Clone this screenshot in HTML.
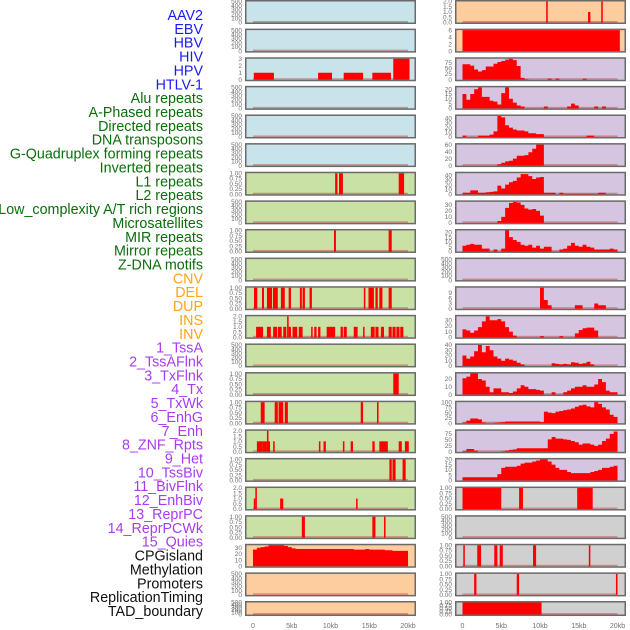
<!DOCTYPE html>
<html><head><meta charset="utf-8">
<style>
html,body{margin:0;padding:0;background:#fff;}
svg{display:block;font-family:"Liberation Sans",sans-serif;}
</style></head>
<body>
<svg id="chart" width="630" height="630" viewBox="0 0 630 630" xmlns="http://www.w3.org/2000/svg"></svg>
<script>
// ---- labels ----
const trackLabels = ["AAV2","EBV","HBV","HIV","HPV","HTLV-1","Alu repeats","A-Phased repeats","Directed repeats","DNA transposons","G-Quadruplex forming repeats","Inverted repeats","L1 repeats","L2 repeats","Low_complexity A/T rich regions","Microsatellites","MIR repeats","Mirror repeats","Z-DNA motifs","CNV","DEL","DUP","INS","INV","1_TssA","2_TssAFlnk","3_TxFlnk","4_Tx","5_TxWk","6_EnhG","7_Enh","8_ZNF_Rpts","9_Het","10_TssBiv","11_BivFlnk","12_EnhBiv","13_ReprPC","14_ReprPCWk","15_Quies","CPGisland","Methylation","Promoters","ReplicationTiming","TAD_boundary"];
const labelGroups = ["virus","virus","virus","virus","virus","virus","repeat","repeat","repeat","repeat","repeat","repeat","repeat","repeat","repeat","repeat","repeat","repeat","repeat","sv","sv","sv","sv","sv","state","state","state","state","state","state","state","state","state","state","state","state","state","state","state","misc","misc","misc","misc","misc"];
const xTickLabels = ["0","5kb","10kb","15kb","20kb"];
const xTickValues = [0,5,10,15,20];

// ---- tick sets ----
const ticks500 = [0,100,200,300,400,500];
const ticks1 = [0,0.25,0.5,0.75,1];
const ticks2 = [0,0.5,1,1.5,2];

// ---- interval data [startKb, endKb, value] ----
const hbvBars = [[0.1,2.7,1],[8.4,10.2,1],[11.7,14.2,1],[15.4,17.8,1],[18.1,20.2,3]];
const aluBars = [[10.6,10.9,1],[11.1,11.6,1],[18.8,19.5,1]];
const directedBars = [[10.45,10.7,1],[17.5,17.9,1]];
const gquadBars = [[0.13,0.55,1],[1.16,1.42,1],[1.8,2.45,1],[2.57,3.2,1],[3.6,4.1,1],[4.6,4.9,1],[6.05,6.3,1],[6.4,6.7,1],[7.3,7.6,1],[14.3,14.5,1],[14.9,15.6,1],[15.8,16.1,1],[16.3,16.7,1],[17.5,17.9,1]];
const invertedBars = [[0.4,1.3,1],[1.8,2.3,1],[2.6,3.1,1],[3.2,3.7,1],[3.9,4.3,1],[4.4,4.6,2],[4.6,4.9,1],[5.1,5.7,1],[5.9,6.4,1],[7.5,7.7,1],[7.9,8.2,1],[8.4,8.7,1],[9.5,10.6,1],[11.3,11.6,1],[11.7,12.1,1],[13,13.5,1],[14.2,14.4,1],[15.2,15.7,1],[15.8,16.2,1],[16.5,16.9,1],[17.5,17.9,1],[18,18.4,1],[18.5,18.9,1],[19,19.4,1]];
const l2Bars = [[18.1,18.8,1]];
const lowComplexBars = [[1.0,1.5,1],[2.8,3.2,1],[3.3,3.9,1],[4.1,4.5,1],[13.9,14.2,1],[16.0,16.2,1]];
const microsatBars = [[0.5,1.2,1],[1.2,1.8,1],[1.8,2.0,2],[2.0,2.2,1],[2.6,2.8,1],[8.5,8.7,1],[9.1,9.4,1],[11.6,11.8,1],[12.6,12.9,1],[15.4,15.7,1],[16.3,17.4,1],[18.8,19.2,1],[19.6,20.1,1]];
const mirBars = [[17.6,17.9,1],[18.0,18.4,1],[19.3,19.7,1]];
const mirrorBars = [[0.1,0.3,1],[0.3,0.5,2],[3.5,3.9,1],[13.3,13.5,1]];
const zdnaBars = [[6.3,6.7,1],[15.4,15.8,1],[16.9,17.1,1]];
const insBars = [[10.8,11.0,2],[16.2,16.5,1],[17.9,18.1,2]];
const invBars = [[0,20.3,6]];
const cpgBars = [[0,5,1],[7.3,7.8,1],[14.8,16.8,1]];
const promoterBars = [[0.1,0.3,1],[1.9,2.4,1],[4.1,4.5,1],[4.8,5.2,1],[9.1,9.5,1],[16.3,16.5,1]];
const replicationBars = [[1.5,1.8,1],[7.0,7.3,1],[19.8,20.0,1]];
const tadBars = [[0,10.2,1]];

// ---- profile data (0.5kb bins, 0..20kb) ----
const cnvProfile = [27,30,31,32,34,34,34,34,33,31,29,28,28,28,28,28,28,28,28,28,28,28,28,28,28,28,27,27,27,28,27,27,27,27,26,26,25,25,25,25];
const tssAProfile = [68,68,62,45,36,42,58,58,70,78,82,88,92,86,60,8,2,0,0,0,0,0,5,0,5,0,0,0,0,0,0,5,0,0,0,0,0,0,0,0];
const tssAFlnkProfile = [15,9,15,20,22,12,12,8,7,4,16,22,10,6,3,2,0,0,0,0,0,2,0,0,0,0,0,2,5,3,0,0,0,0,2,0,2,0,0,0];
const txFlnkProfile = [3,0,0,0,3,3,3,5,12,45,42,25,20,16,14,14,12,8,8,6,6,0,0,0,0,0,0,0,0,0,0,0,3,3,0,0,0,0,0,0];
const txProfile = [0,0,0,0,0,0,0,0,0,4,8,12,14,20,28,28,30,38,48,60,60,0,0,0,0,0,0,0,0,0,0,0,0,0,0,0,0,0,0,0];
const txWkProfile = [3,3,8,8,3,3,4,5,6,18,12,20,25,28,35,42,42,38,32,35,36,3,3,3,0,3,1,1,1,1,1,1,1,1,1,3,3,0,0,0];
const enhGProfile = [0,0,0,0,0,0,0,0,0,3,10,25,33,35,34,30,24,22,23,20,12,0,0,0,0,0,0,0,0,0,0,0,0,0,0,0,0,0,0,0];
const enhProfile = [6,7,8,7,7,3,3,0,2,0,3,22,15,12,10,7,6,7,4,6,3,5,5,0,0,2,3,6,9,6,5,7,5,4,2,2,2,2,3,2];
const hetProfile = [0,0,0,0,0,0,0,0,0,0,0,0,0,0,0,0,0,0,0,0,12,5,2,0,0,0,0,0,0,2,2,0,0,0,3,2,2,0,0,0];
const tssBivProfile = [14,12,8,12,18,28,37,30,30,32,28,18,10,3,0,0,0,0,0,0,2,0,0,0,0,2,0,0,0,7,13,16,17,17,12,0,0,0,0,0];
const bivFlnkProfile = [20,14,18,28,40,26,38,30,18,14,10,14,12,10,6,3,0,0,0,0,0,0,0,5,4,3,4,3,7,6,4,5,8,3,0,0,0,0,0,0];
const enhBivProfile = [21,23,27,27,20,18,10,3,8,8,3,3,2,4,8,12,10,7,7,6,5,0,0,3,0,0,3,5,8,10,10,12,10,10,13,20,16,5,3,3];
const reprPCProfile = [3,12,22,22,18,3,0,0,2,3,5,8,8,8,8,8,8,8,8,8,5,55,50,48,55,58,62,65,70,78,85,88,80,75,100,92,75,65,40,30];
const reprPCWkProfile = [3,12,12,5,0,0,0,0,0,0,2,5,8,10,15,15,15,15,15,15,15,15,52,62,55,55,52,50,45,40,30,35,35,30,25,30,45,55,75,85];
const quiesProfile = [3,3,3,3,3,3,3,3,3,6,12,13,13,13,14,16,17,17,18,19,20,20,18,15,12,10,10,8,7,7,7,7,7,8,9,10,12,12,13,14];

// ---- panel config (column, row, background, data) ----
const BG = {blue:"#c9e3ea", green:"#c9e1a5", orange:"#fdcd9d", purple:"#d5c5e0", gray:"#d0d0d0"};
const panels = [
 ["virus-aav2",0,0,"blue",null,null,ticks500,500],
 ["virus-ebv",0,1,"blue",null,null,ticks500,500],
 ["virus-hbv",0,2,"blue",hbvBars,null,[0,1,2,3],3],
 ["virus-hiv",0,3,"blue",null,null,ticks500,500],
 ["virus-hpv",0,4,"blue",null,null,ticks500,500],
 ["virus-htlv1",0,5,"blue",null,null,ticks500,500],
 ["alu-repeats",0,6,"green",aluBars,null,ticks1,1],
 ["a-phased-repeats",0,7,"green",null,null,ticks500,500],
 ["directed-repeats",0,8,"green",directedBars,null,ticks1,1],
 ["dna-transposons",0,9,"green",null,null,ticks500,500],
 ["g-quadruplex",0,10,"green",gquadBars,null,ticks1,1],
 ["inverted-repeats",0,11,"green",invertedBars,null,ticks2,2],
 ["l1-repeats",0,12,"green",null,null,ticks500,500],
 ["l2-repeats",0,13,"green",l2Bars,null,ticks1,1],
 ["low-complexity",0,14,"green",lowComplexBars,null,ticks1,1],
 ["microsatellites",0,15,"green",microsatBars,null,ticks2,2],
 ["mir-repeats",0,16,"green",mirBars,null,ticks1,1],
 ["mirror-repeats",0,17,"green",mirrorBars,null,ticks2,2],
 ["z-dna-motifs",0,18,"green",zdnaBars,null,ticks1,1],
 ["cnv",0,19,"orange",null,cnvProfile,[0,10,20,30],34],
 ["del",0,20,"orange",null,null,ticks500,500],
 ["dup",0,21,"orange",null,null,ticks500,500],
 ["ins",1,0,"orange",insBars,null,ticks2,2],
 ["inv",1,1,"orange",invBars,null,[0,2,4,6],6],
 ["tss-a",1,2,"purple",null,tssAProfile,[0,25,50,75],92],
 ["tss-a-flnk",1,3,"purple",null,tssAFlnkProfile,[0,5,10,15,20],22],
 ["tx-flnk",1,4,"purple",null,txFlnkProfile,[0,10,20,30,40],45],
 ["tx",1,5,"purple",null,txProfile,[0,20,40,60],60],
 ["tx-wk",1,6,"purple",null,txWkProfile,[0,10,20,30,40],44],
 ["enh-g",1,7,"purple",null,enhGProfile,[0,10,20,30],35],
 ["enh",1,8,"purple",null,enhProfile,[0,5,10,15,20],22],
 ["znf-rpts",1,9,"purple",null,null,ticks500,500],
 ["het",1,10,"purple",null,hetProfile,[0,3,6,9],12],
 ["tss-biv",1,11,"purple",null,tssBivProfile,[0,10,20,30],37],
 ["biv-flnk",1,12,"purple",null,bivFlnkProfile,[0,10,20,30,40],40],
 ["enh-biv",1,13,"purple",null,enhBivProfile,[0,10,20],27],
 ["repr-pc",1,14,"purple",null,reprPCProfile,[0,25,50,75,100],100],
 ["repr-pc-wk",1,15,"purple",null,reprPCWkProfile,[0,25,50,75],88],
 ["quies",1,16,"purple",null,quiesProfile,[0,5,10,15,20],20],
 ["cpg-island",1,17,"gray",cpgBars,null,ticks1,1],
 ["methylation",1,18,"gray",null,null,ticks500,500],
 ["promoters",1,19,"gray",promoterBars,null,ticks1,1],
 ["replication-timing",1,20,"gray",replicationBars,null,ticks1,1],
 ["tad-boundary",1,21,"gray",tadBars,null,ticks1,1]
];

const NS = "http://www.w3.org/2000/svg";
const svg = document.getElementById("chart");
function mk(tag, attrs, parent){
  const e = document.createElementNS(NS, tag);
  for (const k in attrs) e.setAttribute(k, attrs[k]);
  (parent||svg).appendChild(e);
  return e;
}
const LABEL_COLORS = {virus:"#1a1aff", repeat:"#0a6e0a", sv:"#ffa31a", state:"#a83cf0", misc:"#111"};
const COL_LEFT = [245, 455];
const X0 = [253, 462.5];
const PX_PER_KB = 7.75;
const PITCH = 28.62;
function xScale(col, kb){ return X0[col] + kb*PX_PER_KB; }

// labels
trackLabels.forEach((t,i)=>{
  const el = mk("text",{x:203,y:(20+i*13.86).toFixed(1),"text-anchor":"end","font-size":"14.3",fill:LABEL_COLORS[labelGroups[i]]});
  
  
  el.textContent = t;
});

panels.forEach(p=>{
  const [name,col,row,bg,bars,prof,ticks,ymax] = p;
  const top = row*PITCH;
  const h = row===21 ? 15 : 24;
  const g = mk("g",{});
  
  
  const fr = mk("rect",{x:COL_LEFT[col]+0.75,y:top+0.75,width:169.5,height:h-1.5,fill:BG[bg],stroke:"#6a6a6a","stroke-width":1.5},g);
  
  
  const yb = top + h - 1.5, yt = top + 1.5;
  const yScale = v => yb - (v/ymax)*(yb-yt);
  ticks.forEach(tv=>{
    const tl = mk("text",{x:COL_LEFT[col]-3,y:(yScale(tv)+2.2).toFixed(1),"text-anchor":"end","font-size":"6.5",fill:"#707070"},g);
    
    
    tl.textContent = (ticks===ticks1) ? tv.toFixed(2) : (ticks===ticks2 ? tv.toFixed(1) : String(tv));
  });
  const bl = mk("rect",{x:xScale(col,0),y:yb-1.5,width:20*PX_PER_KB,height:1.5,fill:"#c0504d",opacity:0.55},g);
  
  
  if (bars){
    bars.forEach(b=>{
      const x1 = xScale(col,b[0]), x2 = xScale(col,b[1]);
      const r = mk("rect",{x:x1.toFixed(2),y:yScale(b[2]).toFixed(2),width:Math.max(1.2,x2-x1).toFixed(2),height:(yb-yScale(b[2])).toFixed(2),fill:"#ff0000"},g);
      
      
    });
  }
  if (prof){
    let d = "M"+xScale(col,0).toFixed(2)+","+yb;
    prof.forEach((v,i)=>{
      const x1 = xScale(col,i*0.5), x2 = xScale(col,(i+1)*0.5), y = yScale(v).toFixed(2);
      d += "L"+x1.toFixed(2)+","+y+"L"+x2.toFixed(2)+","+y;
    });
    d += "L"+xScale(col,prof.length*0.5).toFixed(2)+","+yb+"Z";
    const pa = mk("path",{d:d,fill:"#ff0000"},g);
    
    
  }
});

[0,1].forEach(col=>{
  xTickValues.forEach((v,i)=>{
    const t = mk("text",{x:xScale(col,v).toFixed(1),y:628,"text-anchor":"middle","font-size":"7",fill:"#707070"});
    
    
    t.textContent = xTickLabels[i];
  });
});
</script>
</body></html>
